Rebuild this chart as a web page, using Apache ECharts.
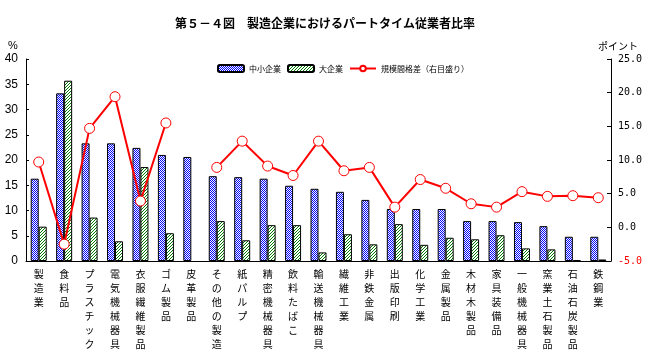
<!DOCTYPE html>
<html><head><meta charset="utf-8">
<script src="https://cdn.jsdelivr.net/npm/echarts@6/dist/echarts.min.js"></script>
<style>html,body{margin:0;padding:0;background:#fff}#c{width:650px;height:361px}</style>
</head><body><div id="c"></div>
<script>
const categories = ['製造業','食料品','プラスチック','電気機械器具','衣服繊維製品','ゴム製品','皮革製品','その他の製造','紙パルプ','精密機械器具','飲料たばこ','輸送機械器具','繊維工業','非鉄金属','出版印刷','化学工業','金属製品','木材木製品','家具装備品','一般機械器具','窯業土石製品','石油石炭製品','鉄鋼業'];
const smallFirms = [16.3, 33.2, 23.3, 23.3, 22.4, 21.0, 20.6, 16.8, 16.6, 16.3, 14.9, 14.3, 13.7, 12.1, 10.3, 10.3, 10.3, 7.9, 7.9, 7.7, 6.9, 4.8, 4.8];
const largeFirms = [6.8, 35.7, 8.6, 3.9, 18.6, 5.5, null, 7.9, 4.1, 7.1, 7.1, 1.7, 5.3, 3.3, 7.3, 3.2, 4.6, 4.3, 5.1, 2.5, 2.3, 0.2, 0.3];
const sizeGap = [9.7, -2.5, 14.7, 19.4, 3.9, 15.5, null, 8.9, 12.8, 9.1, 7.7, 12.8, 8.4, 8.9, 3.0, 7.1, 5.8, 3.5, 3.0, 5.3, 4.6, 4.7, 4.4];
const leftTicks = {min: 0, max: 40, interval: 5};
const rightTicks = {min: -5, max: 25, interval: 5};

function checker(){
  const c=document.createElement('canvas'); c.width=2; c.height=2;
  const g=c.getContext('2d'); g.fillStyle='#ffffff'; g.fillRect(0,0,2,2);
  g.fillStyle='#0000ff'; g.fillRect(0,0,1,1); g.fillRect(1,1,1,1); return c;
}
function hatch(){
  const c=document.createElement('canvas'); c.width=3; c.height=3;
  const g=c.getContext('2d'); g.fillStyle='#ffffff'; g.fillRect(0,0,3,3);
  g.fillStyle='#008000'; for(let i=0;i<3;i++){ g.fillRect(2-i,i,1,1); } return c;
}
const chart = echarts.init(document.getElementById('c'), null, {renderer:'canvas'});
const lblFont = '"Noto Sans CJK JP", sans-serif';
chart.setOption({
  backgroundColor:'#ffffff',
  animation:false,
  title:{text:'第５－４図　製造企業におけるパートタイム従業者比率', left:'center', top:12,
    textStyle:{fontSize:12, fontWeight:'bold', color:'#000', fontFamily:lblFont}},
  legend:{left:212, top:59, itemWidth:26, itemHeight:7, itemGap:6,
    textStyle:{fontSize:8, color:'#000', fontFamily:lblFont},
    data:['中小企業','大企業','規模間格差（右目盛り）']},
  grid:{left:26, right:39, top:59, bottom:100},
  graphic:[
    {type:'text', left:8, top:40, style:{text:'%', fill:'#000', font:'11px "Liberation Sans"'}},
    {type:'text', left:598, top:41, style:{text:'ポイント', fill:'#000', font:'10px "Noto Sans CJK JP"'}}
  ],
  xAxis:{type:'category', data:categories,
    axisLine:{lineStyle:{color:'#000', width:1}}, axisTick:{show:false},
    axisLabel:{interval:0, formatter:v=>v.split('').join('\n'), fontSize:10, lineHeight:14,
      color:'#000', fontFamily:lblFont, verticalAlign:'top', margin:6}},
  yAxis:[
    {type:'value', min:leftTicks.min, max:leftTicks.max, interval:leftTicks.interval, splitLine:{show:false},
      axisLine:{show:true, lineStyle:{color:'#000'}}, axisTick:{show:true, inside:true, length:3, lineStyle:{color:'#000'}},
      axisLabel:{fontSize:12, color:'#000', fontFamily:'"Liberation Sans"', margin:8}},
    {type:'value', min:rightTicks.min, max:rightTicks.max, interval:rightTicks.interval, splitLine:{show:false},
      axisLine:{show:true, lineStyle:{color:'#000'}}, axisTick:{show:true, inside:true, length:4, lineStyle:{color:'#000'}},
      axisLabel:{fontSize:10, fontFamily:'"DejaVu Sans Mono"', margin:7,
        formatter:v=>v.toFixed(1), color:(v)=>(Number(v)<0?'#ff0000':'#000')}}
  ],
  series:[
    {name:'中小企業', type:'bar', data:smallFirms, barWidth:8, barGap:'0%',
      itemStyle:{color:{image:checker(), repeat:'repeat'}, borderColor:'#000', borderWidth:1}},
    {name:'大企業', type:'bar', data:largeFirms, barWidth:8, barGap:'0%',
      itemStyle:{color:{image:hatch(), repeat:'repeat'}, borderColor:'#000', borderWidth:1}},
    {name:'規模間格差（右目盛り）', type:'line', yAxisIndex:1, data:sizeGap, connectNulls:false,
      symbol:'circle', symbolSize:10, showAllSymbol:true, z:5,
      lineStyle:{color:'#ff0000', width:2}, itemStyle:{color:'#ffffff', borderColor:'#ff0000', borderWidth:1}}
  ]
});
</script></body></html>
